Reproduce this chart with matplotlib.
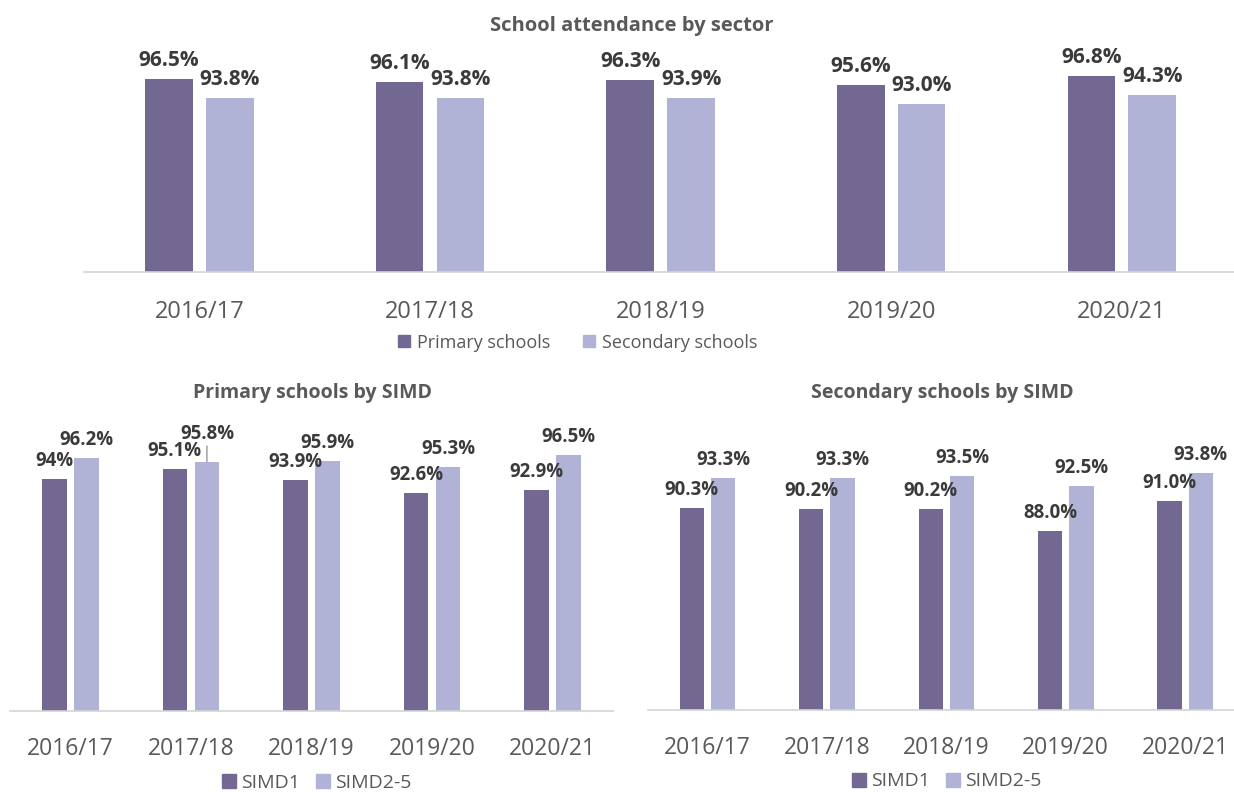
import numpy as np
import matplotlib
matplotlib.use("Agg")
import matplotlib.pyplot as plt
from matplotlib.patches import Patch

plt.rcParams["font.family"] = ["Open Sans", "DejaVu Sans"]

# ---- data -------------------------------------------------------------
years = ["2016/17", "2017/18", "2018/19", "2019/20", "2020/21"]

primary = [96.5, 96.1, 96.3, 95.6, 96.8]
secondary = [93.8, 93.8, 93.9, 93.0, 94.3]

primary_simd1 = [94.0, 95.1, 93.9, 92.6, 92.9]
primary_simd2_5 = [96.2, 95.8, 95.9, 95.3, 96.5]
primary_simd1_labels = ["94%", "95.1%", "93.9%", "92.6%", "92.9%"]

secondary_simd1 = [90.3, 90.2, 90.2, 88.0, 91.0]
secondary_simd2_5 = [93.3, 93.3, 93.5, 92.5, 93.8]

# ---- style ------------------------------------------------------------
DARK = "#736891"
LIGHT = "#B0B2D6"
LABEL_C = "#3A3A3A"
TICK_C = "#595959"
AXIS_C = "#D4D4D4"

W, H = 1234, 792
fig = plt.figure(figsize=(W / 100, H / 100), dpi=100)


def px_axes(x0, x1, ybot, ytop):
    """Axes rectangle from pixel coordinates (origin top-left)."""
    return fig.add_axes([x0 / W, 1 - ybot / H, (x1 - x0) / W, (ybot - ytop) / H])


def style_axes(ax, tick_pad_pt, tick_size):
    ax.set_ylim(70, 100)
    ax.set_xlim(-0.5, 4.5)
    for s in ("top", "right", "left"):
        ax.spines[s].set_visible(False)
    ax.spines["bottom"].set_color(AXIS_C)
    ax.spines["bottom"].set_linewidth(1.2)
    ax.set_yticks([])
    ax.set_xticks(np.arange(len(years)))
    ax.set_xticklabels(years, fontsize=tick_size, color=TICK_C)
    ax.tick_params(axis="x", length=0, pad=tick_pad_pt)
    for lbl in ax.get_xticklabels():
        lbl.set_va("baseline")


def value_label(ax, rect, txt, size, lift=0):
    xc = rect.get_x() + rect.get_width() / 2
    top = rect.get_y() + rect.get_height()
    ax.annotate(txt, (xc, top), xytext=(0, 9.3 + lift), textcoords="offset points",
                ha="center", va="baseline", fontsize=size, fontweight="bold",
                color=LABEL_C, zorder=3, annotation_clip=False)
    if lift:
        # leader line from a raised label down to its bar
        ax.annotate("", (xc, top), xytext=(0, 9.3 + lift - 5),
                    textcoords="offset points", annotation_clip=False,
                    arrowprops=dict(arrowstyle="-", color="#7F7F7F", lw=0.8,
                                    shrinkA=0, shrinkB=0))


def grouped(ax, a, b, offset, width, label_size, a_labels=None, b_labels=None,
            raise_b=None):
    x = np.arange(len(years))
    ba = ax.bar(x - offset, a, width, color=DARK, zorder=2)
    bb = ax.bar(x + offset, b, width, color=LIGHT, zorder=2)
    a_labels = a_labels or [f"{v:.1f}%" for v in a]
    b_labels = b_labels or [f"{v:.1f}%" for v in b]
    raise_b = raise_b or {}
    for rect, txt in zip(ba, a_labels):
        value_label(ax, rect, txt, label_size)
    for i, (rect, txt) in enumerate(zip(bb, b_labels)):
        value_label(ax, rect, txt, label_size, raise_b.get(i, 0))


# ---- top: school attendance by sector ---------------------------------
ax_top = px_axes(84.3, 1237.0, 272.3, 53.0)
style_axes(ax_top, 33.1, 17)
grouped(ax_top, primary, secondary, 0.132, 0.206, 15)
fig.text(632 / W, 1 - 26 / H, "School attendance by sector", ha="center",
         va="center", fontsize=14.5, fontweight="bold", color=TICK_C)
fig.legend(handles=[Patch(color=DARK, label="Primary schools"),
                    Patch(color=LIGHT, label="Secondary schools")],
           loc="center", bbox_to_anchor=(577.5 / W, 1 - 342.5 / H), ncol=2,
           frameon=False, fontsize=13, labelcolor=TICK_C, handlelength=0.67,
           handleheight=0.67, handletextpad=0.4, columnspacing=1.8)

# ---- bottom left: primary schools by SIMD -----------------------------
ax_pl = px_axes(10.0, 613.0, 711.0, 421.2)
style_axes(ax_pl, 31.7, 16.5)
grouped(ax_pl, primary_simd1, primary_simd2_5, 0.133, 0.203, 13.4,
        a_labels=primary_simd1_labels, raise_b={1: 7})
fig.text(312.5 / W, 1 - 393 / H, "Primary schools by SIMD", ha="center",
         va="center", fontsize=14, fontweight="bold", color=TICK_C)
fig.legend(handles=[Patch(color=DARK, label="SIMD1"),
                    Patch(color=LIGHT, label="SIMD2-5")],
           loc="center", bbox_to_anchor=(316.5 / W, 1 - 783 / H), ncol=2,
           frameon=False, fontsize=14, labelcolor=TICK_C, handlelength=0.75,
           handleheight=0.75, handletextpad=0.25, columnspacing=0.8,
           borderpad=0.1)

# ---- bottom right: secondary schools by SIMD --------------------------
ax_sr = px_axes(647.7, 1245.0, 710.0, 411.5)
style_axes(ax_sr, 31.7, 16.5)
grouped(ax_sr, secondary_simd1, secondary_simd2_5, 0.131, 0.204, 13.4)
fig.text(942.5 / W, 1 - 393 / H, "Secondary schools by SIMD", ha="center",
         va="center", fontsize=14, fontweight="bold", color=TICK_C)
fig.legend(handles=[Patch(color=DARK, label="SIMD1"),
                    Patch(color=LIGHT, label="SIMD2-5")],
           loc="center", bbox_to_anchor=(946.5 / W, 1 - 781.5 / H), ncol=2,
           frameon=False, fontsize=14, labelcolor=TICK_C, handlelength=0.75,
           handleheight=0.75, handletextpad=0.25, columnspacing=0.8,
           borderpad=0.1)

fig.savefig("out.png", dpi=100)
